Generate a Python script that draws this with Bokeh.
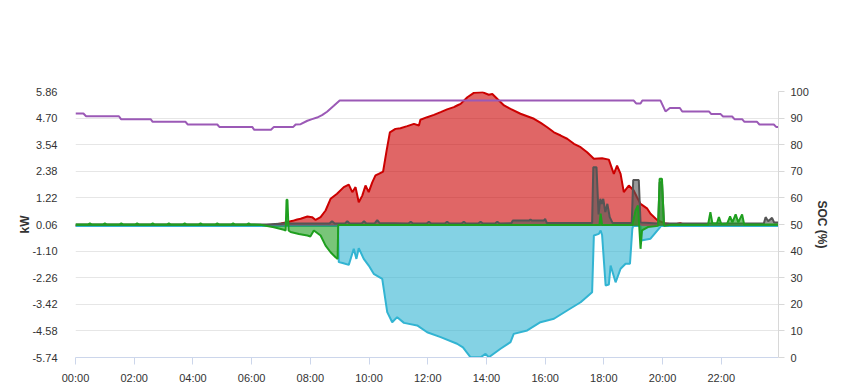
from bokeh.plotting import figure
from bokeh.models import Range1d, LinearAxis, FixedTicker, NumeralTickFormatter
from bokeh.embed import file_html
from bokeh.resources import INLINE

# ---------------- data (hours of day, kW / %) ----------------
y_ticks = [-5.74, -4.58, -3.42, -2.26, -1.10, 0.06, 1.22, 2.38, 3.54, 4.70, 5.86]
soc_ticks = [0, 10, 20, 30, 40, 50, 60, 70, 80, 90, 100]
x_ticks = [0, 2, 4, 6, 8, 10, 12, 14, 16, 18, 20, 22]
x_labels = ["00:00", "02:00", "04:00", "06:00", "08:00", "10:00",
            "12:00", "14:00", "16:00", "18:00", "20:00", "22:00"]

# PV production (red)
pv_t = [0, 6.45, 6.6, 6.8, 7.0, 7.2, 7.4, 7.55, 7.67, 7.9, 8.06, 8.18, 8.35, 8.52,
        8.69, 8.91, 9.14, 9.31, 9.43, 9.54, 9.65, 9.77, 9.88, 9.99, 10.11, 10.22,
        10.33, 10.48, 10.6, 10.71, 10.9, 11.07, 11.3, 11.53, 11.7, 11.75, 11.98,
        12.21, 12.44, 12.66, 12.89, 13.0, 13.12, 13.35, 13.57, 13.86, 14.08, 14.2,
        14.6, 14.82, 15.16, 15.39, 15.62, 15.85, 16.07, 16.3, 16.53, 16.75, 16.98,
        17.21, 17.43, 17.66, 17.94, 18.17, 18.34, 18.45, 18.57, 18.68, 18.85,
        19.02, 19.13, 19.25, 19.48, 19.59, 19.82, 20.1, 20.4, 20.6, 20.75, 21.0,
        21.5, 23.95]
pv_v = [0, 0, 0.03, 0.06, 0.1, 0.16, 0.22, 0.28, 0.31, 0.41, 0.38, 0.26, 0.38, 0.67,
        1.18, 1.40, 1.69, 1.80, 1.47, 1.69, 1.03, 1.32, 1.76, 1.47, 1.90, 2.20,
        2.27, 2.37, 3.29, 4.08, 4.23, 4.26, 4.35, 4.45, 4.38, 4.63, 4.74,
        4.84, 4.96, 5.08, 5.18, 5.25, 5.32, 5.61, 5.80, 5.83, 5.72, 5.75,
        5.25, 5.10, 4.89, 4.78, 4.67, 4.49, 4.30, 4.08, 3.94, 3.80, 3.58,
        3.43, 3.21, 2.93, 2.95, 2.89, 2.27, 2.63, 2.27, 1.47, 1.76,
        1.54, 1.25, 0.96, 0.75, 0.53, 0.25, 0.10, 0.06, 0.12, 0.05, 0.02,
        0, 0]

# Grid (cyan, negative = export)
grid_t = [0, 8.94, 8.97, 9.1, 9.31, 9.48, 9.57, 9.65, 9.82, 9.99, 10.16, 10.45,
          10.62, 10.79, 10.96, 11.19, 11.64, 11.98, 12.44, 13.0, 13.2, 13.46,
          13.8, 13.97, 14.08, 14.48, 14.82, 14.93, 15.39, 15.84, 16.3, 16.75,
          17.21, 17.6, 17.66, 17.83, 17.89, 17.94, 18.06, 18.17, 18.23, 18.4,
          18.57, 18.74, 18.89, 18.97, 19.0, 19.25, 19.27, 19.59, 19.87, 19.95,
          23.95]
grid_v = [0, 0, -1.58, -1.62, -1.70, -1.0, -1.44, -0.97, -1.44, -1.73, -2.09, -2.31,
          -3.76, -4.20, -3.98, -4.23, -4.34, -4.64, -4.85, -5.14, -5.30, -5.73,
          -5.73, -5.58, -5.73, -5.36, -5.07, -4.71, -4.56, -4.20, -4.05, -3.69,
          -3.33, -2.89, -0.42, -0.35, -0.20, -0.40, -2.60, -2.56, -1.73, -2.46,
          -1.87, -1.65, -1.65, -0.13, 0, 0, -0.64, -0.56, -0.13, 0,
          0]

# Load (gray)
load_t = [0, 6.5, 7.1, 7.2, 7.3, 8.65, 8.74, 8.83, 9.18, 9.26, 9.34, 9.75, 9.83,
          9.91, 10.2, 10.28, 10.36, 11.34, 11.42, 11.5, 11.96, 12.04, 12.12, 12.58,
          12.66, 12.74, 13.15, 13.23, 13.31, 13.72, 13.8, 13.88, 14.29, 14.37,
          14.45, 14.85, 14.9, 15.45, 15.5, 15.55, 15.95, 16.0, 16.06, 17.6, 17.64,
          17.75, 17.82, 17.88, 17.93, 17.98, 18.05, 18.12, 18.2, 18.3, 18.95, 19.0,
          19.19, 19.25, 19.85, 19.9, 19.98, 20.05, 23.45, 23.51, 23.6, 23.73, 23.8,
          23.95]
load_v = [0.06, 0.06, 0.10, 0.16, 0.10, 0.10, 0.20, 0.10, 0.10, 0.20, 0.10, 0.10, 0.20,
          0.10, 0.12, 0.25, 0.12, 0.10, 0.18, 0.10, 0.10, 0.18, 0.10, 0.10,
          0.18, 0.10, 0.10, 0.18, 0.10, 0.10, 0.18, 0.10, 0.10, 0.18,
          0.10, 0.12, 0.23, 0.23, 0.28, 0.23, 0.23, 0.30, 0.12, 0.12, 2.56,
          2.56, 0.50, 1.18, 0.96, 1.18, 0.60, 0.96, 0.38, 0.12, 0.12, 2.00,
          2.00, 0.15, 0.10, 1.90, 1.90, 0.10, 0.10, 0.38, 0.20, 0.35, 0.15,
          0.15]

# Battery (green)
bat_t = [0, 0.42, 0.49, 0.56, 0.93, 1.0, 1.07, 1.49, 1.56, 1.63, 2.03, 2.1, 2.17,
         2.56, 2.63, 2.7, 3.11, 3.18, 3.25, 3.65, 3.72, 3.79, 4.19, 4.26, 4.33,
         4.76, 4.83, 4.9, 5.3, 5.37, 5.44, 5.83, 5.9, 5.97, 6.3, 6.76, 7.1, 7.16,
         7.19, 7.22, 7.26, 7.33, 7.61, 7.9, 8.0, 8.12, 8.35, 8.52, 8.69, 8.86,
         8.93, 8.95, 17.85, 17.89, 17.94, 18.97, 19.08, 19.16, 19.2, 19.25, 19.3,
         19.5, 19.85, 19.9, 19.98, 20.05, 20.3, 21.55, 21.63, 21.7, 21.85, 21.92,
         22.0, 22.2, 22.3, 22.38, 22.49, 22.58, 22.71, 22.78, 23.95]
bat_v = [0.06, 0.06, 0.11, 0.06, 0.06, 0.11, 0.06, 0.06, 0.11, 0.06, 0.06, 0.11, 0.06,
         0.06, 0.11, 0.06, 0.06, 0.11, 0.06, 0.06, 0.11, 0.06, 0.06, 0.11, 0.06,
         0.06, 0.11, 0.06, 0.06, 0.11, 0.06, 0.06, 0.11, 0.06, 0.05, -0.06, -0.17, -0.20,
         1.14, 1.14, -0.20, -0.27, -0.35, -0.42, -0.46, -0.20, -0.42, -0.86, -1.15, -1.37,
         -1.44, 0.04, 0.04, 0.53, 0.04, 0.04, 0.67, 0.89, 0.10, -1.00, -0.20,
         -0.05, 0.0, 2.05, 2.05, 0.0, 0.05, 0.05, 0.60, 0.10, 0.10, 0.38,
         0.08, 0.10, 0.41, 0.15, 0.50, 0.15, 0.50, 0.06, 0.06]

# State of charge (purple, right axis)
soc_t = [0, 0.27, 0.36, 1.48, 1.55, 2.56, 2.63, 3.75, 3.82, 4.83, 4.9, 6.02, 6.09,
         6.66, 6.76, 7.42, 7.5, 7.67, 7.9, 8.06, 8.23, 8.4, 8.57, 8.8, 9.0,
         19.02, 19.1, 19.25, 19.31, 19.93, 20.1, 20.25, 20.59, 20.67, 21.58, 21.66,
         21.98, 22.06, 22.37, 22.45, 22.71, 22.79, 23.22, 23.3, 23.79, 23.87, 23.95]
soc_v = [91.7, 91.7, 90.7, 90.7, 89.6, 89.6, 88.6, 88.6, 87.6, 87.6, 86.7, 86.7, 85.6,
         85.6, 86.7, 86.7, 87.6, 87.7, 89.0, 89.6, 90.2, 91.1, 92.4, 94.6, 96.6,
         96.6, 95.5, 95.5, 96.6, 96.6, 92.5, 93.8, 93.8, 92.5, 92.5, 91.5,
         91.5, 90.6, 90.6, 89.6, 89.6, 88.6, 88.6, 87.6, 87.6, 86.7, 86.7]

# ---------------- figure ----------------
FONT = "Liberation Sans"
RED, CYAN, GRAY, GREEN, PURPLE = "#cc0000", "#32b4d2", "#555555", "#1f9f1f", "#9b59b6"

p = figure(width=849, height=390, output_backend="svg", toolbar_location=None,
           x_range=Range1d(0, 23.95), y_range=Range1d(-5.74, 5.86),
           min_border_left=75, min_border_right=71, min_border_top=91,
           min_border_bottom=33)
p.outline_line_color = None
p.background_fill_color = "white"
p.border_fill_color = "white"
p.extra_y_ranges = {"soc": Range1d(0, 100)}

# left axis
ya = p.yaxis[0]
ya.ticker = FixedTicker(ticks=y_ticks)
ya.formatter = NumeralTickFormatter(format="0.00")
ya.axis_line_color = None
ya.major_tick_line_color = None
ya.minor_tick_line_color = None
ya.major_label_standoff = 12
ya.axis_label = "kW"
ya.axis_label_standoff = -3
ya.axis_label_text_font = FONT
ya.axis_label_text_font_size = "12px"
ya.axis_label_text_font_style = "bold"
ya.axis_label_text_color = "#333333"
ya.major_label_text_font = FONT
ya.major_label_text_font_size = "11px"
ya.major_label_text_color = "#333333"

# right axis
ra = LinearAxis(y_range_name="soc", ticker=FixedTicker(ticks=soc_ticks))
ra.axis_line_color = "#d8d8d8"
ra.major_tick_line_color = "#d8d8d8"
ra.major_tick_out = 6
ra.major_tick_in = 0
ra.minor_tick_line_color = None
ra.major_label_standoff = 6
ra.axis_label = "SOC (%)"
ra.axis_label_standoff = 3
ra.axis_label_text_font = FONT
ra.axis_label_text_font_size = "12px"
ra.axis_label_text_font_style = "bold"
ra.axis_label_text_color = "#333333"
ra.major_label_text_font = FONT
ra.major_label_text_font_size = "11px"
ra.major_label_text_color = "#333333"
p.add_layout(ra, "right")

# bottom axis
xa = p.xaxis[0]
xa.ticker = FixedTicker(ticks=x_ticks)
xa.major_label_overrides = {t: l for t, l in zip(x_ticks, x_labels)}
xa.axis_line_color = "#ccd6eb"
xa.major_tick_line_color = "#ccd6eb"
xa.major_tick_out = 7
xa.major_tick_in = 0
xa.minor_tick_line_color = None
xa.major_label_standoff = 7
xa.major_label_text_font = FONT
xa.major_label_text_font_size = "11px"
xa.major_label_text_color = "#333333"

p.xgrid.grid_line_color = None
p.ygrid.ticker = FixedTicker(ticks=y_ticks)
p.ygrid.grid_line_color = "#e6e6e6"

# series
p.varea(x=pv_t, y1=0, y2=pv_v, fill_color=RED, fill_alpha=0.6)
p.line(pv_t, pv_v, line_color=RED, line_width=2)

p.varea(x=grid_t, y1=0, y2=grid_v, fill_color=CYAN, fill_alpha=0.6)
p.line(grid_t, grid_v, line_color=CYAN, line_width=2)

p.varea(x=load_t, y1=0, y2=load_v, fill_color=GRAY, fill_alpha=0.6)
p.line(load_t, load_v, line_color=GRAY, line_width=2)

p.varea(x=bat_t, y1=0, y2=bat_v, fill_color=GREEN, fill_alpha=0.6)
p.line(bat_t, bat_v, line_color=GREEN, line_width=2)

p.line(soc_t, soc_v, line_color=PURPLE, line_width=2, y_range_name="soc")

open("out.html", "w").write(file_html(p, INLINE))
